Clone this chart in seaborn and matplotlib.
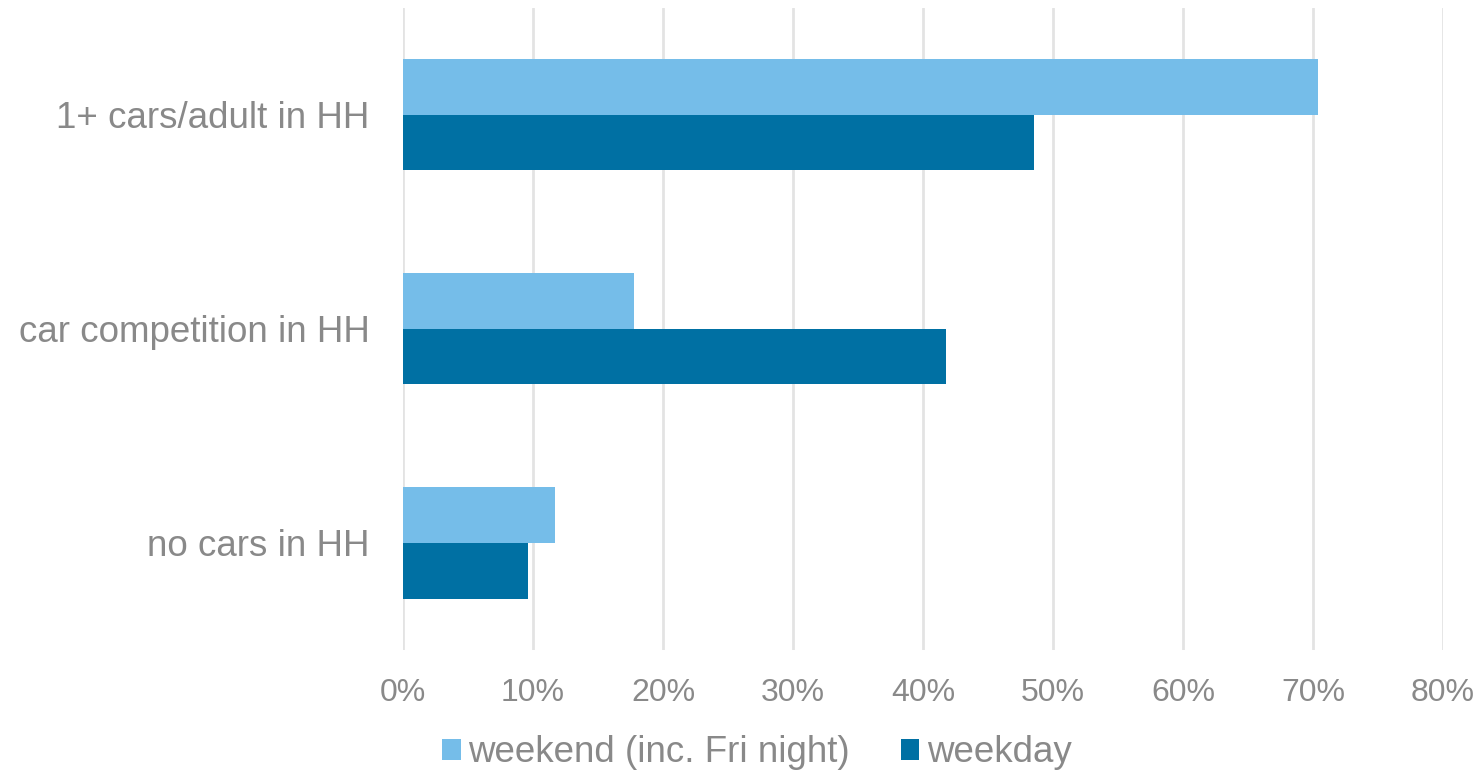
import numpy as np
import pandas as pd
import seaborn as sns
import matplotlib.pyplot as plt
from matplotlib.ticker import PercentFormatter

# data
categories = ['1+ cars/adult in HH', 'car competition in HH', 'no cars in HH']
weekend = [70.4, 17.8, 11.7]
weekday = [48.5, 41.8, 9.6]
series = ['weekend (inc. Fri night)', 'weekday']

df = pd.DataFrame({
    'category': categories * 2,
    'share': weekend + weekday,
    'series': [series[0]] * 3 + [series[1]] * 3,
})

sns.set_style('white')
plt.rcParams['font.family'] = ['Liberation Sans', 'DejaVu Sans']
grey = '#898989'

fig = plt.figure(figsize=(14.84, 7.71), dpi=100)
ax = fig.add_axes([0.2716, 0.157, 0.7008, 0.833])

sns.barplot(data=df, y='category', x='share', hue='series', orient='h',
            palette=['#75BDE9', '#0070A3'], width=0.52, saturation=1,
            linewidth=0, ax=ax, legend=True)

ax.set_xlim(0, 80)
ax.set_xticks(np.arange(0, 81, 10))
ax.xaxis.set_major_formatter(PercentFormatter(decimals=0))
ax.set_ylim(2.5, -0.5)
ax.grid(axis='x', color='#e3e3e3', linewidth=2)
ax.set_axisbelow(True)
for s in ax.spines.values():
    s.set_visible(False)
ax.set_xlabel('')
ax.set_ylabel('')
ax.tick_params(axis='x', colors=grey, labelsize=23, length=0, pad=20)
ax.tick_params(axis='y', colors=grey, labelsize=26.5, length=0, pad=24)

handles, labels = ax.get_legend_handles_labels()
ax.legend_.remove()
fig.legend(handles, labels, loc='lower center', bbox_to_anchor=(0.51, -0.042),
           ncol=2, frameon=False, fontsize=26.5, labelcolor=grey,
           handlelength=0.5, handleheight=0.5, handletextpad=0.2,
           columnspacing=1.4)

fig.savefig('out.png', dpi=100)
